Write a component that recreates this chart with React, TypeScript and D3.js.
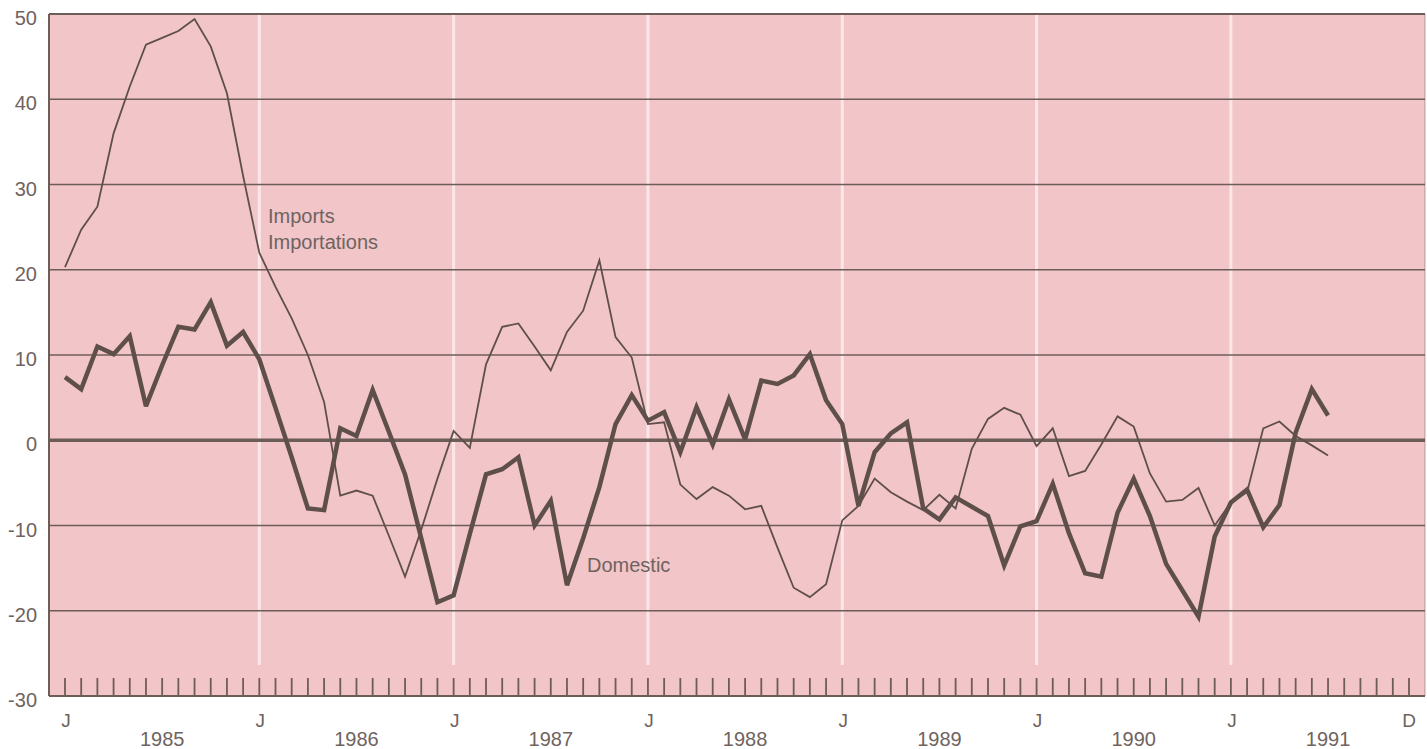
import React from "react";
import * as d3 from "d3";

// Month index 0 = January 1985 … 78 = July 1991
const importsValues: number[] = [
  20.3, 24.7, 27.4, 36, 41.5, 46.4, 47.2, 48, 49.4, 46.2, 40.7, 31,
  22, 18, 14.3, 10, 4.5, -6.5, -5.9, -6.5, -11.2, -16, -10.5, -4.5,
  1.1, -0.9, 8.9, 13.3, 13.7, 11, 8.2, 12.7, 15.2, 21.1, 12.1, 9.7,
  1.9, 2.1, -5.2, -6.9, -5.5, -6.5, -8.1, -7.7, -12.6, -17.3, -18.4, -16.9,
  -9.4, -7.7, -4.5, -6.1, -7.2, -8.2, -6.4, -8, -1, 2.5, 3.8, 3, -0.7, 1.4,
  -4.2, -3.6, -0.5, 2.8, 1.6, -3.9, -7.2, -7, -5.6, -10, -7.3, -6.1,
  1.4, 2.2, 0.5, -0.6, -1.8,
];

const domesticValues: number[] = [
  7.4, 6, 11, 10.1, 12.2, 4, 8.8, 13.3, 13, 16.2, 11.1, 12.7,
  9.5, 3.8, -2, -8, -8.2, 1.4, 0.5, 5.9, 1, -4, -11.5, -19,
  -18.2, -11, -4, -3.4, -2, -10, -7.1, -17, -11.5, -5.5, 1.9, 5.3,
  2.3, 3.3, -1.4, 3.9, -0.5, 4.8, 0.1, 7, 6.6, 7.6, 10.1, 4.7,
  1.9, -7.7, -1.4, 0.8, 2.1, -8, -9.3, -6.7, -7.8, -8.9, -14.7, -10.1,
  -9.5, -5.1, -10.9, -15.6, -16, -8.5, -4.5, -8.9, -14.5, -17.6, -20.7, -11.3,
  -7.3, -5.8, -10.2, -7.6, 0.9, 6, 2.9,
];

const yTicks: number[] = [50, 40, 30, 20, 10, 0, -10, -20, -30];
const yearLabels: string[] = ["1985", "1986", "1987", "1988", "1989", "1990", "1991"];
const monthCount = 84; // Jan 1985 … Dec 1991
const januaryLabel = "J";
const lastMonthLabel = "D";
const importsLabel: string[] = ["Imports", "Importations"];
const domesticLabel = "Domestic";

const W = 1427;
const H = 749;
const plot = { left: 49, right: 1425, top: 14, bottom: 696 };

const BG = "#f2c5c9";
const INK = "#5f4f4b";
const GRID = "#6d5d58";
const TEXT = "#6f6360";
const FONT = "'Liberation Sans', Arial, Helvetica, sans-serif";

export default function App() {
  const x = d3.scaleLinear().domain([0, monthCount - 1]).range([65, 1409]);
  const y = d3.scaleLinear().domain([-30, 50]).range([plot.bottom, plot.top]);

  const line = d3
    .line<number>()
    .x((_, i) => x(i))
    .y((d) => y(d));

  const months = d3.range(monthCount);
  const januaries = months.filter((m) => m % 12 === 0);

  return (
    <div style={{ position: "absolute", left: 0, top: 0, width: W, height: H, background: "#ffffff" }}>
      <svg width={W} height={H} style={{ display: "block" }}>
        {/* plot background */}
        <rect
          x={plot.left}
          y={plot.top}
          width={plot.right - plot.left}
          height={plot.bottom - plot.top}
          fill={BG}
        />
        {/* white January lines */}
        {januaries
          .filter((m) => m > 0)
          .map((m) => (
            <line
              key={"wj" + m}
              x1={x(m)}
              x2={x(m)}
              y1={plot.top + 1}
              y2={665}
              stroke="#fbe7e7"
              strokeWidth={3}
            />
          ))}
        {/* horizontal grid */}
        {yTicks.map((t) => (
          <line
            key={"g" + t}
            x1={plot.left}
            x2={plot.right}
            y1={y(t)}
            y2={y(t)}
            stroke={GRID}
            strokeWidth={t === 0 ? 3.5 : t === 50 || t === -30 ? 2 : 1.6}
          />
        ))}
        {/* left and right frame */}
        <line x1={plot.left} x2={plot.left} y1={plot.top} y2={plot.bottom} stroke={GRID} strokeWidth={2} />
        <line x1={plot.right} x2={plot.right} y1={plot.top} y2={plot.bottom} stroke={GRID} strokeWidth={1} opacity={0.5} />
        {/* month ticks */}
        {months.map((m) => (
          <line
            key={"t" + m}
            x1={x(m)}
            x2={x(m)}
            y1={plot.bottom}
            y2={plot.bottom - 18}
            stroke={GRID}
            strokeWidth={1.8}
          />
        ))}
        {/* y labels */}
        {yTicks.map((t) => (
          <text
            key={"yl" + t}
            x={37}
            y={y(t) + 4}
            textAnchor="end"
            dominantBaseline="central"
            fontFamily={FONT}
            fontSize={20}
            fill={TEXT}
          >
            {t}
          </text>
        ))}
        {/* x labels */}
        {januaries.map((m) => (
          <text
            key={"jl" + m}
            x={x(m) + 1}
            y={727}
            textAnchor="middle"
            fontFamily={FONT}
            fontSize={19}
            fill={TEXT}
          >
            {januaryLabel}
          </text>
        ))}
        <text
          x={x(monthCount - 1)}
          y={727}
          textAnchor="middle"
          fontFamily={FONT}
          fontSize={19}
          fill={TEXT}
        >
          {lastMonthLabel}
        </text>
        {yearLabels.map((yl, k) => (
          <text
            key={"yr" + yl}
            x={x(k * 12 + 6)}
            y={746}
            textAnchor="middle"
            fontFamily={FONT}
            fontSize={20}
            fill={TEXT}
          >
            {yl}
          </text>
        ))}
        {/* series */}
        <path
          d={line(importsValues) || ""}
          fill="none"
          stroke={INK}
          strokeWidth={1.8}
          strokeLinejoin="miter"
        />
        <path
          d={line(domesticValues) || ""}
          fill="none"
          stroke={INK}
          strokeWidth={4.5}
          strokeLinejoin="miter"
          strokeMiterlimit={3}
        />
        {/* series labels */}
        <text x={268} y={223} fontFamily={FONT} fontSize={20} fill={TEXT}>
          {importsLabel[0]}
        </text>
        <text x={268} y={249} fontFamily={FONT} fontSize={20} fill={TEXT}>
          {importsLabel[1]}
        </text>
        <text x={587} y={572} fontFamily={FONT} fontSize={20} fill={TEXT}>
          {domesticLabel}
        </text>
      </svg>
    </div>
  );
}
